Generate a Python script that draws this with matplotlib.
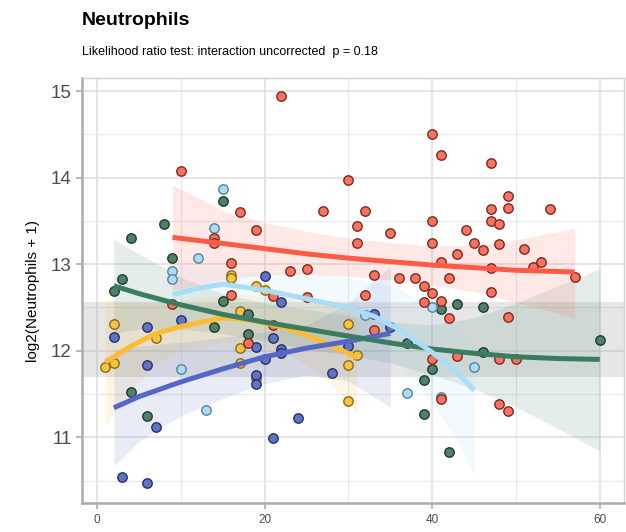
import matplotlib.pyplot as plt
import numpy as np
from matplotlib.ticker import MultipleLocator

plt.rcParams['font.family'] = ['Liberation Sans', 'DejaVu Sans']

# points per group (age, log2 value)
red_x = [9,10,14,14,16,16,17,18,19,21,21,22,23,25,25,27,30,31,31,32,32,33,33,35,36,38,39,39,
         40,40,40,40,40,41,41,41,41,42,42,43,43,44,45,46,47,47,47,47,47,48,48,48,48,49,49,49,49,
         50,51,52,53,54,57]
red_y = [12.54,14.08,13.30,13.24,13.01,12.64,13.60,12.09,13.39,12.63,12.30,14.95,12.92,12.95,12.62,
         13.61,13.97,13.44,13.24,13.62,12.64,12.88,12.24,13.36,12.84,12.84,12.75,12.56,
         14.51,13.50,13.25,12.67,11.90,14.26,13.02,12.57,11.44,12.84,12.38,13.12,11.94,13.39,13.24,
         13.16,14.17,13.64,13.50,12.96,12.68,13.46,13.23,11.90,11.39,13.79,13.65,12.39,11.30,
         11.90,13.18,12.97,13.02,13.64,12.85]

green_x = [2,3,4,4,6,8,9,14,15,15,18,18,37,39,39,40,41,42,43,46,46,60]
green_y = [12.69,12.83,13.30,11.52,11.25,13.46,13.07,12.28,13.73,12.57,12.42,12.19,
           12.09,11.66,11.27,11.79,12.48,10.83,12.54,12.51,11.98,12.12]

lblue_x = [9,9,10,12,13,14,15,32,37,40,41,45]
lblue_y = [12.92,12.83,11.79,13.07,11.32,13.42,13.87,12.41,11.51,12.50,11.47,11.81]

gold_x = [1,2,2,7,16,16,17,17,17,19,19,20,30,30,30,31]
gold_y = [11.81,12.31,11.86,12.15,12.88,12.84,12.46,12.03,11.86,12.75,11.69,12.70,
          12.31,11.84,11.42,11.95]

dblue_x = [2,3,6,6,6,7,10,19,19,19,20,20,21,21,22,22,22,24,28,30,33,35]
dblue_y = [12.16,10.54,12.27,11.84,10.47,11.12,12.35,12.04,11.72,11.62,12.86,11.91,12.15,
           10.99,12.56,12.02,11.97,11.22,11.74,12.06,12.43,12.27]

# smooth fits with confidence ribbons
red_fx = [9,15,20,25,30,35,40,45,50,57]
red_fit = [13.31,13.24,13.18,13.12,13.07,13.03,12.99,12.96,12.93,12.91]
red_lo = [12.70,12.82,12.88,12.88,12.86,12.82,12.76,12.68,12.56,12.38]
red_hi = [13.92,13.62,13.48,13.38,13.30,13.25,13.21,13.22,13.28,13.42]

green_fx = [2,5,10,15,20,25,30,35,40,45,50,55,60]
green_fit = [12.75,12.66,12.53,12.42,12.33,12.25,12.17,12.09,12.02,11.97,11.93,11.91,11.90]
green_lo = [12.20,12.25,12.25,12.20,12.12,12.02,11.95,11.86,11.72,11.56,11.35,11.10,10.84]
green_hi = [13.29,13.12,12.85,12.66,12.55,12.48,12.40,12.33,12.30,12.38,12.55,12.75,12.95]

lblue_fx = [9,12,15,20,25,30,33,36,40,43,45]
lblue_fit = [12.65,12.72,12.77,12.70,12.60,12.50,12.40,12.25,11.98,11.75,11.54]
lblue_lo = [12.10,12.45,12.55,12.50,12.40,12.20,12.05,11.85,11.40,10.95,10.55]
lblue_hi = [13.00,12.97,12.95,12.90,12.88,12.85,12.80,12.72,12.50,12.25,12.05]

gold_fx = [1,4,7,10,15,18,21,24,27,30,31]
gold_fit = [11.87,12.05,12.20,12.28,12.38,12.36,12.30,12.22,12.10,11.97,11.92]
gold_lo = [11.15,11.55,11.85,12.00,12.10,12.08,12.02,11.90,11.70,11.40,11.28]
gold_hi = [12.60,12.55,12.55,12.58,12.65,12.65,12.62,12.60,12.58,12.55,12.55]

dblue_fx = [2,5,10,15,20,25,30,35]
dblue_fit = [11.34,11.47,11.64,11.79,11.93,12.03,12.11,12.20]
dblue_lo = [10.67,10.95,11.25,11.45,11.62,11.72,11.65,11.35]
dblue_hi = [12.00,12.05,12.10,12.15,12.22,12.30,12.55,12.98]

band_lo, band_hi = 11.70, 12.56

fig = plt.figure(figsize=(6.26,5.32), dpi=100)
ax = fig.add_axes([0.131,0.0545,0.866,0.7985])

ax.axhspan(band_lo, band_hi, color='#b4b4b4', alpha=0.33, lw=0, zorder=1)

groups = [
    (gold_x, gold_y, gold_fx, gold_fit, gold_lo, gold_hi, '#f6c343', '#8c6a1a', '#fdbd33'),
    (dblue_x, dblue_y, dblue_fx, dblue_fit, dblue_lo, dblue_hi, '#6174c2', '#26306b', '#5567c6'),
    (green_x, green_y, green_fx, green_fit, green_lo, green_hi, '#4f806a', '#1f3b2e', '#3b7b60'),
    (lblue_x, lblue_y, lblue_fx, lblue_fit, lblue_lo, lblue_hi, '#abdcf5', '#5b8196', '#a9ddf8'),
    (red_x, red_y, red_fx, red_fit, red_lo, red_hi, '#f8735f', '#7a2a22', '#ff5a45'),
]

for gx, gy, fx, fit, lo, hi, fill, edge, lc in groups:
    ax.fill_between(fx, lo, hi, color=lc, alpha=0.13, lw=0, zorder=2)
for gx, gy, fx, fit, lo, hi, fill, edge, lc in groups:
    ax.scatter(gx, gy, s=46, c=fill, edgecolors=edge, linewidths=1.0, zorder=3)
for gx, gy, fx, fit, lo, hi, fill, edge, lc in groups:
    ax.plot(fx, fit, color=lc, lw=3.6, solid_capstyle='butt', zorder=4)

ax.set_xlim(-1.8, 62.9)
ax.set_ylim(10.24, 15.15)
ax.xaxis.set_major_locator(MultipleLocator(20))
ax.xaxis.set_minor_locator(MultipleLocator(10))
ax.yaxis.set_major_locator(MultipleLocator(1))
ax.yaxis.set_minor_locator(MultipleLocator(0.5))
ax.grid(which='major', color='#dedede', lw=1.1, zorder=0)
ax.grid(which='minor', color='#e8e8e8', lw=0.8, zorder=0)
ax.set_axisbelow(True)

for s in ['top','right']:
    ax.spines[s].set_color('#d0d0d0')
    ax.spines[s].set_linewidth(1.0)
for s in ['left','bottom']:
    ax.spines[s].set_color('#ababab')
    ax.spines[s].set_linewidth(1.8)

ax.tick_params(axis='y', which='major', labelsize=13.5, colors='#ababab', labelcolor='#4d4d4d',
               length=4, width=1.2)
ax.tick_params(axis='x', which='major', labelsize=8.5, colors='#ababab', labelcolor='#4d4d4d',
               length=4, width=1.2, pad=4)
ax.tick_params(which='minor', length=0)

ax.set_ylabel('log2(Neutrophils + 1)', fontsize=11, color='black', labelpad=8)

fig.text(0.131, 0.953, 'Neutrophils', fontsize=14, fontweight='bold', ha='left', va='baseline')
fig.text(0.131, 0.896, 'Likelihood ratio test: interaction uncorrected  p = 0.18',
         fontsize=9, ha='left', va='baseline')

fig.savefig('out.png', dpi=100)
